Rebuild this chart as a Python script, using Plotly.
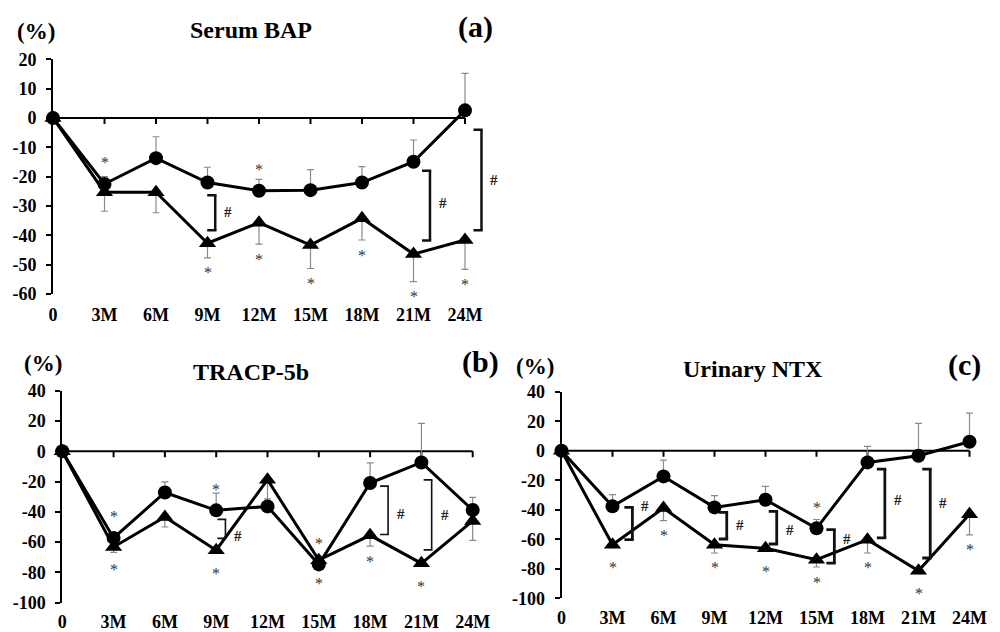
import plotly.graph_objects as go

# ---------------- data ----------------
LABELS = ["0", "3M", "6M", "9M", "12M", "15M", "18M", "21M", "24M"]

# (a) Serum BAP
A_CIRCLE = [0, -22.5, -13.7, -22.0, -24.8, -24.6, -22.0, -14.9, 2.6]
A_CIRCLE_ERR = [0, 2.5, 7.3, 5.2, 3.9, 7.0, 5.4, 7.4, 12.6]
A_TRI = [0, -25.3, -25.3, -42.7, -35.7, -43.3, -34.2, -46.4, -41.6]
A_TRI_ERR = [0, 6.5, 7.0, 5.0, 7.3, 8.0, 7.4, 9.4, 10.0]
A_STAR_CIRCLE = [1, 4]
A_STAR_TRI = [3, 4, 5, 6, 7, 8]
# significance brackets: (x, y_top, y_bottom, y of "#")
A_BRACKETS = [(3.15, -26.3, -38.3, -32.0), (7.32, -18.0, -41.8, -28.9), (8.32, -4.0, -38.3, -21.1)]

# (b) TRACP-5b
B_CIRCLE = [0, -57.2, -27.2, -39.0, -36.4, -74.7, -21.0, -7.4, -38.8]
B_CIRCLE_ERR = [0, 1, 7.0, 11.4, 5.0, 2.0, 13.4, 25.8, 8.3]
B_TRI = [0, -63.2, -43.4, -65.3, -18.8, -71.9, -55.5, -74.0, -46.0]
B_TRI_ERR = [0, 3.6, 6.6, 2.0, 21.3, 2.0, 7.2, 2.0, 12.8]
B_STAR_CIRCLE = [1, 3, 5]
B_STAR_TRI = [1, 3, 5, 6, 7]
B_BRACKETS = [(3.18, -45.0, -57.5, -56.2), (6.35, -23.0, -55.0, -41.2), (7.2, -18.9, -65.1, -42.2)]

# (c) Urinary NTX
C_CIRCLE = [0, -37.7, -17.4, -38.4, -33.2, -52.6, -7.9, -3.4, 6.1]
C_CIRCLE_ERR = [0, 8.0, 11.0, 8.0, 9.0, 6.0, 10.8, 22.0, 19.4]
C_TRI = [0, -63.7, -38.8, -63.7, -66.1, -73.8, -60.3, -81.3, -43.0]
C_TRI_ERR = [0, 2.0, 8.6, 5.6, 2.0, 5.0, 9.0, 2.0, 14.0]
C_STAR_CIRCLE = [5]
C_STAR_TRI = [1, 2, 3, 4, 5, 6, 7, 8]
C_BRACKETS = [(1.39, -38.4, -60.3, -37.7), (3.24, -41.8, -59.8, -50.1), (4.22, -41.1, -63.2, -53.5),
              (5.35, -53.5, -76.1, -59.8), (6.34, -12.4, -59.1, -33.2), (7.23, -12.4, -72.7, -35.4)]

W, H = 1000, 632
OFF = 8  # page body margin compensation
SERIF = "Liberation Serif"


def PX(px):
    return (px - OFF) / W


def PY(py):
    return 1 - (py - OFF) / H


panels = [
    dict(key="", circ=A_CIRCLE, cerr=A_CIRCLE_ERR, tri=A_TRI, terr=A_TRI_ERR,
         sc=A_STAR_CIRCLE, st=A_STAR_TRI, br=A_BRACKETS, brw=2.5, xstand=8,
         x0=53, xu=51.5, xr=[0, 8.7], ytop=59.3, ybot=294, yr=[-60, 20], ydt=10,
         pct=(36, 32), title="Serum BAP", tpos=(251, 30), tag="(a)", tagpos=(475, 27)),
    dict(key="2", circ=B_CIRCLE, cerr=B_CIRCLE_ERR, tri=B_TRI, terr=B_TRI_ERR,
         sc=B_STAR_CIRCLE, st=B_STAR_TRI, br=B_BRACKETS, brw=1.6, xstand=6,
         x0=62.3, xu=51.3, xr=[0, 8.7], ytop=390.7, ybot=602.7, yr=[-100, 40], ydt=20,
         pct=(42.5, 363), title="TRACP-5b", tpos=(251, 371.7), tag="(b)", tagpos=(480, 361.7)),
    dict(key="3", circ=C_CIRCLE, cerr=C_CIRCLE_ERR, tri=C_TRI, terr=C_TRI_ERR,
         sc=C_STAR_CIRCLE, st=C_STAR_TRI, br=C_BRACKETS, brw=2.8, xstand=7,
         x0=561.5, xu=51.0, xr=[0, 8.6], ytop=391.7, ybot=598.3, yr=[-100, 40], ydt=20,
         pct=(535, 366.7), title="Urinary NTX", tpos=(753.3, 369.3), tag="(c)", tagpos=(964, 365)),
]

fig = go.Figure()
shapes = []
annotations = []
layout_axes = {}

xs = list(range(len(LABELS)))

for p in panels:
    k = p["key"]
    xref = "x" + k
    yref = "y" + k
    px_per_unit = (p["ybot"] - p["ytop"]) / (p["yr"][1] - p["yr"][0])
    xdom = [PX(p["x0"]), min(1.0, PX(p["x0"] + p["xu"] * p["xr"][1]))]
    ydom = [PY(p["ybot"]), PY(p["ytop"])]

    # triangles first (circles drawn on top)
    fig.add_trace(go.Scatter(
        x=xs, y=p["tri"], xaxis=xref, yaxis=yref, mode="lines+markers",
        line=dict(color="black", width=3),
        marker=dict(symbol="triangle-up", size=15, color="black"),
        error_y=dict(type="data", symmetric=False, array=[0] * len(xs), arrayminus=p["terr"],
                     color="#8a8a8a", thickness=1.2, width=3.5),
        cliponaxis=False, showlegend=False, hoverinfo="skip"))
    fig.add_trace(go.Scatter(
        x=xs, y=p["circ"], xaxis=xref, yaxis=yref, mode="lines+markers",
        line=dict(color="black", width=3),
        marker=dict(symbol="circle", size=14, color="black"),
        error_y=dict(type="data", symmetric=False, array=p["cerr"], arrayminus=[0] * len(xs),
                     color="#8a8a8a", thickness=1.2, width=3.5),
        cliponaxis=False, showlegend=False, hoverinfo="skip"))

    # zero line with tick marks
    shapes.append(dict(type="line", xref=xref, yref=yref, x0=xs[0], x1=xs[-1], y0=0, y1=0,
                       line=dict(color="black", width=2), layer="below"))
    for i in xs[1:]:
        shapes.append(dict(type="line", xref=xref, yref=yref, x0=i, x1=i,
                           ysizemode="pixel", yanchor=0, y0=0, y1=-6,
                           line=dict(color="black", width=2), layer="below"))

    # significance brackets
    for (bx, yt, yb, hy) in p["br"]:
        lw = p["brw"]
        shapes.append(dict(type="line", xref=xref, yref=yref, x0=bx, x1=bx, y0=yt, y1=yb,
                           line=dict(color="#111", width=lw)))
        for yy in (yt, yb):
            shapes.append(dict(type="line", xref=xref, yref=yref, xsizemode="pixel", xanchor=bx,
                               x0=-8, x1=lw / 2, y0=yy, y1=yy, line=dict(color="#111", width=lw)))
        annotations.append(dict(x=bx, y=hy, xref=xref, yref=yref, text="#", showarrow=False,
                                xshift=13, xanchor="center", yanchor="middle",
                                font=dict(family=SERIF, size=15, color="#222", weight="bold")))

    # asterisks
    for i in p["sc"]:
        off = max(p["cerr"][i] * px_per_unit + 8, 25)
        annotations.append(dict(x=i, y=p["circ"][i], xref=xref, yref=yref, text="*", showarrow=False,
                                yshift=off - 4, xanchor="center", yanchor="middle",
                                font=dict(family=SERIF, size=16, color="#333")))
    for i in p["st"]:
        off = max(p["terr"][i] * px_per_unit, 8) + 12
        annotations.append(dict(x=i, y=p["tri"][i], xref=xref, yref=yref, text="*", showarrow=False,
                                yshift=-off - 3, xanchor="center", yanchor="middle",
                                font=dict(family=SERIF, size=16, color="#333")))

    # texts
    for (txt, pos, size) in (("(%)", p["pct"], 23), (p["title"], p["tpos"], 24), (p["tag"], p["tagpos"], 30)):
        annotations.append(dict(x=PX(pos[0]), y=PY(pos[1]), xref="paper", yref="paper",
                                text=txt, showarrow=False, xanchor="center", yanchor="middle",
                                font=dict(family=SERIF, size=size, color="black", weight="bold")))

    xa = "xaxis" + k
    ya = "yaxis" + k
    yt = list(range(p["yr"][0], p["yr"][1] + 1, p["ydt"]))
    layout_axes[xa] = dict(domain=xdom, range=p["xr"], anchor=yref, showgrid=False, zeroline=False,
                           showline=False, tickvals=xs, ticktext=LABELS, ticks="",
                           ticklabelstandoff=p["xstand"],
                           tickfont=dict(family=SERIF, size=18, color="black", weight="bold"))
    layout_axes[ya] = dict(domain=ydom, range=p["yr"], anchor=xref, showgrid=False, zeroline=False,
                           showline=True, linecolor="black", linewidth=2,
                           ticks="outside", ticklen=5, tickwidth=2, tickcolor="black",
                           tickvals=yt, ticktext=[str(v) for v in yt], ticklabelstandoff=6,
                           tickfont=dict(family=SERIF, size=18, color="black", weight="bold"))

fig.update_layout(width=W, height=H, margin=dict(l=0, r=0, t=0, b=0, autoexpand=False), autosize=False,
                  paper_bgcolor="white", plot_bgcolor="white",
                  shapes=shapes, annotations=annotations, **layout_axes)

fig.write_html("out.html")
